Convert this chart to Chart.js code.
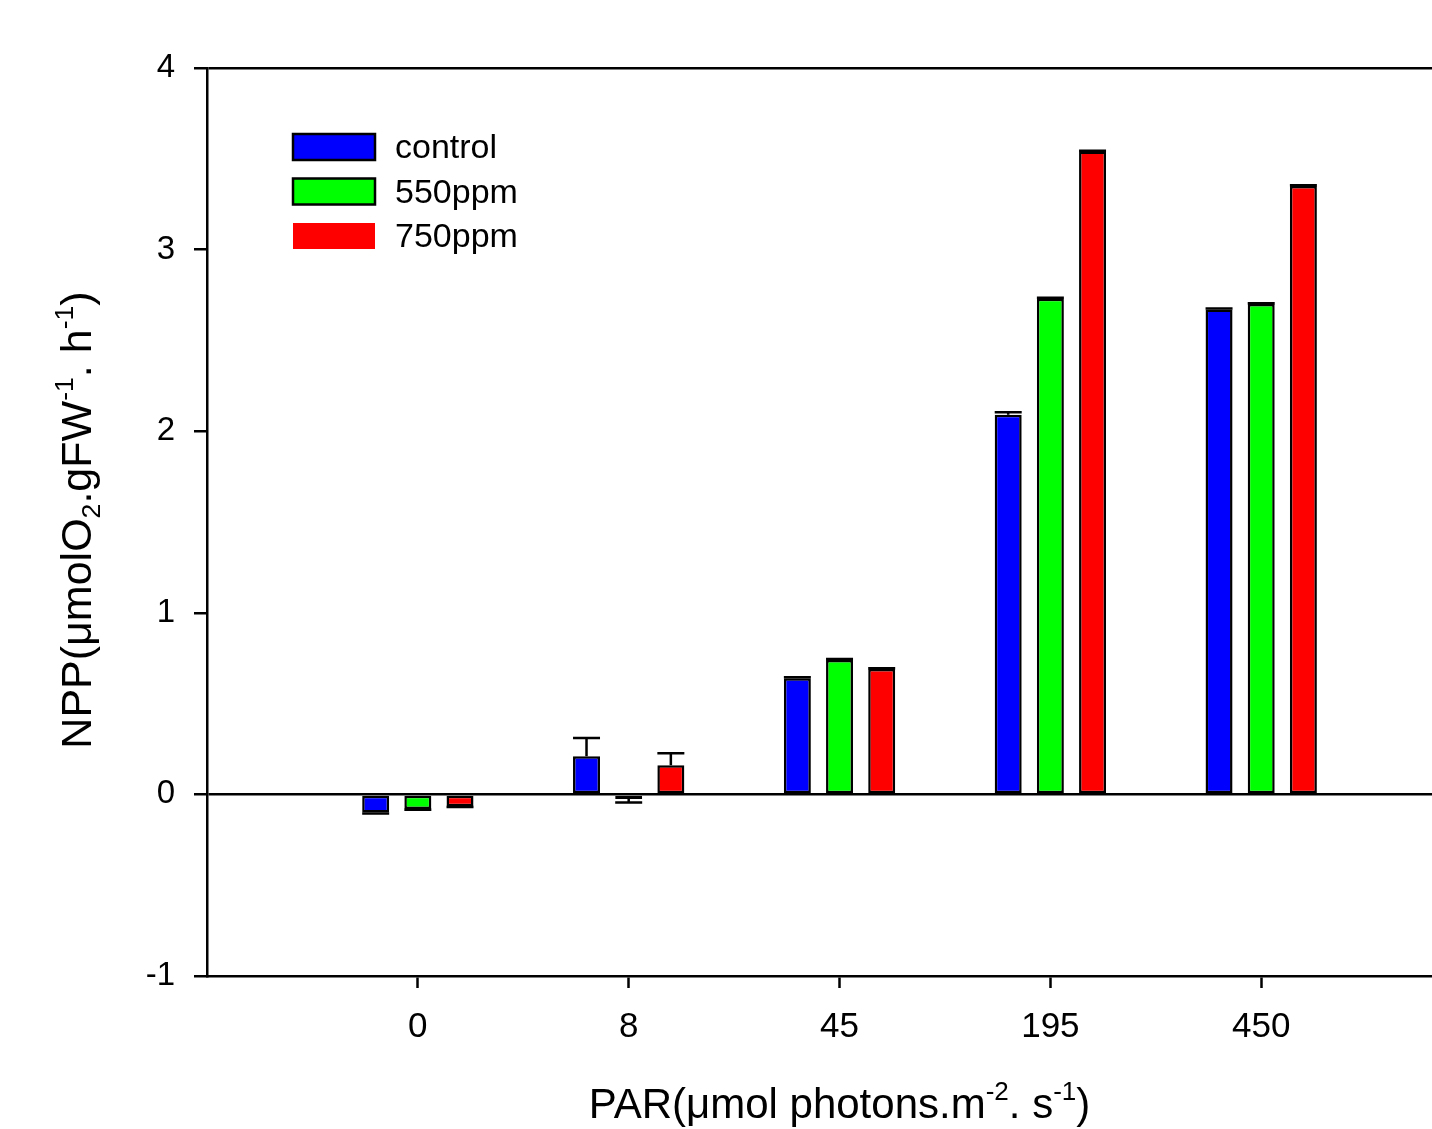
<!DOCTYPE html>
<html>
<head>
<meta charset="utf-8">
<script src="https://cdn.jsdelivr.net/npm/chart.js@4.4.0/dist/chart.umd.min.js"></script>
<style>
  html, body { margin: 0; padding: 0; background: #fff; overflow: hidden; }
  #myChart { display: block; }
</style>
</head>
<body>
<canvas id="myChart" width="1432" height="1129"></canvas>
<script>
// PAR levels (x categories)
const par_labels = ['0', '8', '45', '195', '450'];
const series_names = ['control', '550ppm', '750ppm'];
const series_colors = ['#0000ff', '#00ff00', '#ff0000'];

// NPP values
const npp_control = [-0.10, 0.21, 0.64, 2.09, 2.67];
const npp_550 = [-0.08, -0.025, 0.74, 2.73, 2.70];
const npp_750 = [-0.065, 0.16, 0.69, 3.54, 3.35];

// error bar half-lengths
const err_control = [0.005, 0.10, 0.005, 0.015, 0.005];
const err_550 = [0.005, 0.02, 0.005, 0.005, 0.005];
const err_750 = [0.005, 0.066, 0.005, 0.005, 0.005];

const y_ticks = [-1, 0, 1, 2, 3, 4];

const FONT = '"Liberation Sans", Arial, sans-serif';

const toPoints = arr => arr.map((v, i) => ({x: i, y: v}));

const drawRich = (ctx, parts, size) => {
    let w = 0;
    parts.forEach(p => {
        const s = (p.sup || p.sub) ? size * 0.62 : size;
        ctx.font = s + 'px ' + FONT;
        p.w = ctx.measureText(p.t).width;
        p.s = s;
        w += p.w;
    });
    let x = -w / 2;
    parts.forEach(p => {
        ctx.font = p.s + 'px ' + FONT;
        let dy = 0;
        if (p.sup) dy = -size * 0.42;
        if (p.sub) dy = size * 0.2;
        ctx.fillText(p.t, x, dy);
        x += p.w;
    });
};

const errorBars = {
    id: 'errorBars',
    afterDatasetsDraw(chart) {
        const ctx = chart.ctx;
        const yScale = chart.scales.y;
        chart.data.datasets.forEach((ds, di) => {
            const meta = chart.getDatasetMeta(di);
            meta.data.forEach((bar, i) => {
                const v = ds.data[i].y;
                const e = ds.errors[i];
                const tip = yScale.getPixelForValue(v < 0 ? v - e : v + e);
                const half = bar.width / 2;
                ctx.save();
                ctx.strokeStyle = '#000';
                ctx.lineWidth = 2.5;
                ctx.beginPath();
                ctx.moveTo(bar.x, bar.y);
                ctx.lineTo(bar.x, tip);
                ctx.moveTo(bar.x - half, tip);
                ctx.lineTo(bar.x + half, tip);
                ctx.stroke();
                ctx.restore();
            });
        });
    }
};

const decorations = {
    id: 'decorations',
    afterDraw(chart) {
        const ctx = chart.ctx;
        const area = chart.chartArea;
        ctx.save();
        ctx.fillStyle = '#000';

        // legend
        chart.data.datasets.forEach((ds, i) => {
            const bx = area.left + 86;
            const by = area.top + 66 + i * 44.5;
            ctx.fillStyle = ds.backgroundColor;
            ctx.fillRect(bx, by, 82, 26);
            if (i < 2) {
                ctx.strokeStyle = '#000';
                ctx.lineWidth = 2.5;
                ctx.strokeRect(bx, by, 82, 26);
            }
            ctx.fillStyle = '#000';
            ctx.font = '34px ' + FONT;
            ctx.textBaseline = 'middle';
            ctx.fillText(ds.label, bx + 102, by + 15);
        });
        ctx.textBaseline = 'alphabetic';

        // x title
        ctx.save();
        ctx.translate(chart.scales.x.getPixelForValue(2), 1118);
        drawRich(ctx, [
            {t: 'PAR(\u03bcmol photons.m'}, {t: '-2', sup: true},
            {t: '. s'}, {t: '-1', sup: true}, {t: ')'}
        ], 42);
        ctx.restore();

        // y title
        ctx.save();
        ctx.translate(91, 520);
        ctx.rotate(-Math.PI / 2);
        drawRich(ctx, [
            {t: 'NPP(\u03bcmolO'}, {t: '2', sub: true}, {t: '.gFW'},
            {t: '-1', sup: true}, {t: '. h'}, {t: '-1', sup: true}, {t: ')'}
        ], 43);
        ctx.restore();

        ctx.restore();
    }
};

const convasGraphic = () => {
    const ctx = document.getElementById('myChart').getContext('2d');
    const errs = [err_control, err_550, err_750];
    const vals = [npp_control, npp_550, npp_750];
    const data = {
        datasets: series_names.map((name, i) => ({
            label: name,
            data: toPoints(vals[i]),
            errors: errs[i],
            backgroundColor: series_colors[i],
            borderColor: '#000',
            borderWidth: 2.5,
            borderSkipped: false,
            categoryPercentage: 0.6,
            barPercentage: 0.64
        }))
    };
    new Chart(ctx, {
        type: 'bar',
        data: data,
        options: {
            responsive: false,
            animation: false,
            layout: {padding: {top: 68, right: 0, left: 0, bottom: 0}},
            plugins: {
                legend: {display: false},
                tooltip: {enabled: false}
            },
            scales: {
                x: {
                    type: 'linear',
                    offset: false,
                    min: -1,
                    max: 4.81,
                    afterFit: scale => { scale.height = 153; },
                    afterBuildTicks: scale => {
                        scale.ticks = par_labels.map((_, i) => ({value: i}));
                    },
                    border: {display: true, color: '#000', width: 2.5},
                    grid: {
                        drawOnChartArea: false,
                        drawTicks: true,
                        tickLength: 12,
                        tickColor: '#000',
                        tickWidth: 2.5,
                        offset: false
                    },
                    ticks: {
                        color: '#000',
                        font: {family: FONT, size: 35},
                        padding: 18,
                        maxRotation: 0,
                        callback: v => par_labels[v]
                    }
                },
                y: {
                    min: -1,
                    max: 4,
                    afterFit: scale => { scale.width = 207; },
                    afterBuildTicks: scale => {
                        scale.ticks = y_ticks.map(v => ({value: v}));
                    },
                    border: {display: true, color: '#000', width: 2.5},
                    grid: {
                        color: c => (c.tick && (c.tick.value === 0 || c.tick.value === 4)) ? '#000' : 'rgba(0,0,0,0)',
                        lineWidth: 2.5,
                        drawTicks: true,
                        tickLength: 13,
                        tickColor: '#000',
                        tickWidth: 2.5
                    },
                    ticks: {
                        color: '#000',
                        font: {family: FONT, size: 33},
                        padding: 19
                    }
                }
            }
        },
        plugins: [errorBars, decorations]
    });
};

convasGraphic();
</script>
</body>
</html>
